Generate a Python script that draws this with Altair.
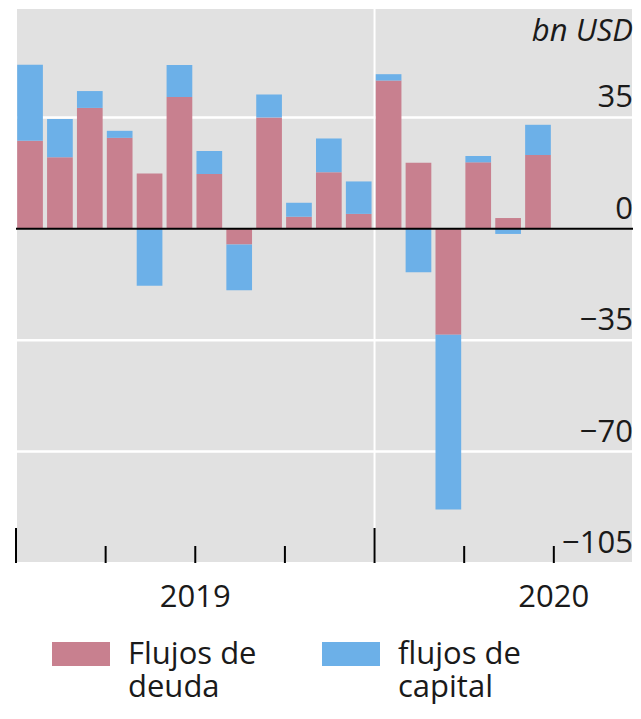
import altair as alt
import pandas as pd

# ---- data ----
months = ["2019-01", "2019-02", "2019-03", "2019-04", "2019-05", "2019-06",
          "2019-07", "2019-08", "2019-09", "2019-10", "2019-11", "2019-12",
          "2020-01", "2020-02", "2020-03", "2020-04", "2020-05", "2020-06"]
debt = [27.7, 22.5, 38.0, 28.6, 17.4, 41.4, 17.2, -4.9, 35.0, 3.8, 17.8, 4.7,
        46.6, 20.8, -33.3, 20.9, 3.4, 23.2]
capital = [23.9, 12.0, 5.3, 2.2, -17.9, 10.1, 7.3, -14.4, 7.2, 4.4, 10.6, 10.2,
           2.0, -13.6, -54.9, 2.0, -1.6, 9.5]
series = ["Flujos de deuda", "flujos de capital"]
colors = ["#c8808f", "#6cb0e8"]

y_ticks = [35, 0, -35, -70, -105]
y_tick_labels = ["35", "0", "\u221235", "\u221270", "\u2212105"]
grid_values = [35, -35, -70]
year_bounds = [12]
major_ticks = [0, 12]
minor_ticks = [3, 6, 9, 15, 18]
year_pos = [6, 18]
years = ["2019", "2020"]
unit = "bn USD"

W, H = 617, 555
FONT = "Open Sans"
TXT = "#1a1a1a"

rows = []
for i, m in enumerate(months):
    rows.append({"month": m, "idx": i, "series": series[0], "ord": 0, "value": debt[i]})
    rows.append({"month": m, "idx": i, "series": series[1], "ord": 1, "value": capital[i]})
df = pd.DataFrame(rows)

xs = alt.Scale(domain=[0, 20.65], nice=False, zero=False)
ys = alt.Scale(domain=[-105, 69.4], nice=False, zero=False)
cs = alt.Scale(domain=series, range=colors)

grid = alt.Chart(pd.DataFrame({"v": grid_values})).mark_rule(
    color="white", strokeWidth=2.5
).encode(y=alt.Y("v:Q", scale=ys, axis=None))

vgrid = alt.Chart(pd.DataFrame({"v": year_bounds})).mark_rule(
    color="white", strokeWidth=2
).encode(x=alt.X("v:Q", scale=xs, axis=None))

bars = alt.Chart(df).transform_stack(
    stack="value", groupby=["idx"], as_=["y0", "y1"],
    sort=[alt.SortField("ord", order="ascending")],
).transform_calculate(
    x0="datum.idx + 0.04", x1="datum.idx + 0.9"
).mark_bar(strokeWidth=0).encode(
    x=alt.X("x0:Q", scale=xs, axis=None),
    x2="x1:Q",
    y=alt.Y("y0:Q", scale=ys, axis=None),
    y2="y1:Q",
    color=alt.Color("series:N", scale=cs, legend=None),
)

zero = alt.Chart(pd.DataFrame({"v": [0]})).mark_rule(
    color="black", strokeWidth=2
).encode(y=alt.Y("v:Q", scale=ys, axis=None))

major = alt.Chart(pd.DataFrame({"v": major_ticks})).mark_rule(
    color="black", strokeWidth=2
).encode(x=alt.X("v:Q", scale=xs, axis=None), y=alt.value(H), y2=alt.value(H - 35))

minor = alt.Chart(pd.DataFrame({"v": minor_ticks})).mark_rule(
    color="black", strokeWidth=2
).encode(x=alt.X("v:Q", scale=xs, axis=None), y=alt.value(H), y2=alt.value(H - 17))

ylab = alt.Chart(pd.DataFrame({"v": y_ticks, "t": y_tick_labels})).mark_text(
    align="right", baseline="alphabetic", dy=-10, font=FONT, fontSize=31, color=TXT
).encode(y=alt.Y("v:Q", scale=ys, axis=None), x=alt.value(W), text="t:N")

unit_txt = alt.Chart(pd.DataFrame({"t": [unit]})).mark_text(
    align="right", baseline="alphabetic", font=FONT, fontSize=31, fontStyle="italic", color=TXT
).encode(x=alt.value(W), y=alt.value(33), text="t:N")

year_txt = alt.Chart(pd.DataFrame({"v": year_pos, "t": years})).mark_text(
    align="center", baseline="top", font=FONT, fontSize=31, color=TXT
).encode(x=alt.X("v:Q", scale=xs, axis=None), y=alt.value(H + 20), text="t:N")

# ---- legend (swatches + two-line labels) ----
leg = pd.DataFrame({"series": series, "k": list(range(len(series)))})
leg_sw = alt.Chart(leg).mark_point(
    shape="M-1,-0.41H1V0.41H-1Z", size=3364, filled=True, opacity=1, strokeWidth=0
).encode(
    x=alt.X("k:Q", scale=alt.Scale(domain=[0, 1], range=[65, 335]), axis=None),
    y=alt.value(646),
    color=alt.Color("series:N", scale=cs, legend=None),
)
leg_tx = alt.Chart(leg).transform_calculate(
    lbl="slice(datum.series, 0, 9) + '\\n' + slice(datum.series, 10)"
).mark_text(
    align="left", baseline="alphabetic", lineBreak="\n", lineHeight=33,
    font=FONT, fontSize=31, color=TXT
).encode(
    x=alt.X("k:Q", scale=alt.Scale(domain=[0, 1], range=[112, 382]), axis=None),
    y=alt.value(656),
    text="lbl:N",
)

chart = alt.layer(
    grid, vgrid, bars, zero, major, minor, ylab, unit_txt, year_txt, leg_sw, leg_tx
).resolve_scale(x="independent").properties(
    width=W, height=H,
    autosize=alt.AutoSizeParams(type="none"),
    padding={"left": 8, "top": 0, "right": 0, "bottom": 143},
    background="white",
).configure_view(
    fill="#e1e1e1", stroke="white", strokeWidth=2
)

chart.save("out.html", embed_options={"renderer": "svg", "actions": False})
